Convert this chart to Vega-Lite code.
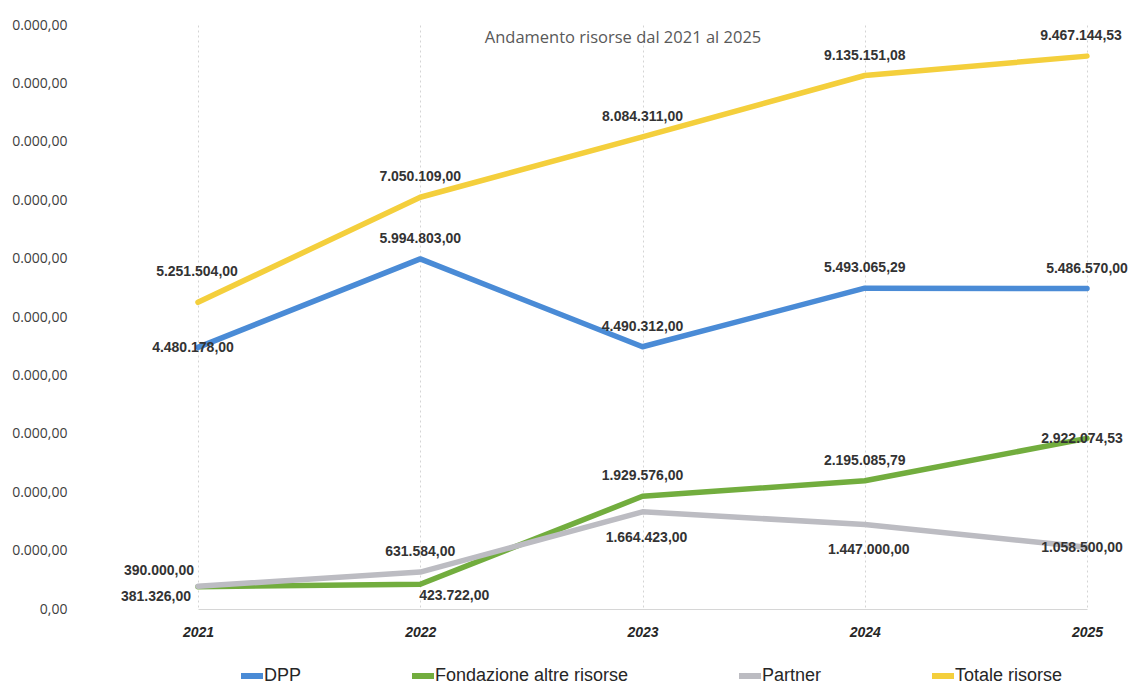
{
  "$schema": "https://vega.github.io/schema/vega-lite/v6.json",
  "width": 1042,
  "height": 584,
  "autosize": {"type": "none"},
  "padding": {"left": 87, "top": 25, "right": 0, "bottom": 80},
  "background": "white",
  "config": {
    "locale": {"number": {"decimal": ",", "thousands": ".", "grouping": [3], "currency": ["€", ""]}},
    "view": {"stroke": null}
  },
  "title": {
    "text": "Andamento risorse dal 2021 al 2025",
    "font": "Open Sans",
    "fontSize": 16.5,
    "fontWeight": "normal",
    "color": "#595959",
    "anchor": "middle",
    "dx": 15,
    "baseline": "middle",
    "offset": -36
  },
  "data": {
    "values": [
      {"series": "DPP", "year": "2021", "value": 4480178},
      {"series": "DPP", "year": "2022", "value": 5994803},
      {"series": "DPP", "year": "2023", "value": 4490312},
      {"series": "DPP", "year": "2024", "value": 5493065.29},
      {"series": "DPP", "year": "2025", "value": 5486570},
      {"series": "Fondazione altre risorse", "year": "2021", "value": 381326},
      {"series": "Fondazione altre risorse", "year": "2022", "value": 423722},
      {"series": "Fondazione altre risorse", "year": "2023", "value": 1929576},
      {"series": "Fondazione altre risorse", "year": "2024", "value": 2195085.79},
      {"series": "Fondazione altre risorse", "year": "2025", "value": 2922074.53},
      {"series": "Partner", "year": "2021", "value": 390000},
      {"series": "Partner", "year": "2022", "value": 631584},
      {"series": "Partner", "year": "2023", "value": 1664423},
      {"series": "Partner", "year": "2024", "value": 1447000},
      {"series": "Partner", "year": "2025", "value": 1058500},
      {"series": "Totale risorse", "year": "2021", "value": 5251504},
      {"series": "Totale risorse", "year": "2022", "value": 7050109},
      {"series": "Totale risorse", "year": "2023", "value": 8084311},
      {"series": "Totale risorse", "year": "2024", "value": 9135151.08},
      {"series": "Totale risorse", "year": "2025", "value": 9467144.53}
    ]
  },
  "encoding": {
    "x": {
      "field": "year",
      "type": "ordinal",
      "scale": {"type": "point", "range": [111, 1000], "padding": 0},
      "axis": {
        "title": null,
        "labelAngle": 0,
        "labelFont": "Liberation Sans",
        "labelFontSize": 14,
        "labelFontWeight": "bold",
        "labelFontStyle": "italic",
        "labelColor": "#262626",
        "labelPadding": 16,
        "ticks": false,
        "domain": true,
        "domainColor": "#d6d6d6",
        "domainWidth": 1,
        "grid": true,
        "gridColor": "#d4d4d4",
        "gridDash": [2, 3],
        "gridWidth": 1
      }
    },
    "y": {
      "field": "value",
      "type": "quantitative",
      "scale": {"domain": [0, 10000000], "nice": false, "zero": true},
      "axis": {
        "title": null,
        "values": [0, 1000000, 2000000, 3000000, 4000000, 5000000, 6000000, 7000000, 8000000, 9000000, 10000000],
        "format": ",.2f",
        "labelExpr": "length(datum.label) > 8 ? substring(datum.label, length(datum.label) - 8) : datum.label",
        "labelFont": "Open Sans",
        "labelFontSize": 14,
        "labelColor": "#404040",
        "labelPadding": 20,
        "labelOverlap": false,
        "labelFlush": false,
        "ticks": false,
        "domain": false,
        "grid": false
      }
    }
  },
  "layer": [
    {
      "mark": {"type": "line", "strokeWidth": 5.5, "strokeCap": "round", "strokeJoin": "round"},
      "encoding": {
        "color": {
          "field": "series",
          "type": "nominal",
          "scale": {
            "domain": ["DPP", "Fondazione altre risorse", "Partner", "Totale risorse"],
            "range": ["#4a8bd6", "#72ad3e", "#bcbcc2", "#f4cf3c"]
          },
          "legend": {
            "orient": "none",
            "legendX": 151,
            "legendY": 637,
            "direction": "horizontal",
            "title": null,
            "symbolType": "stroke",
            "symbolSize": 484,
            "symbolStrokeWidth": 6,
            "labelFont": "Liberation Sans",
            "labelFontSize": 18,
            "labelColor": "#262626",
            "labelOffset": -2,
            "labelLimit": 0,
            "columnPadding": 98
          }
        }
      }
    },
    {
      "transform": [{"filter": "(datum.series=='Totale risorse' && datum.year!='2021' && datum.year!='2025') || (datum.series=='DPP' && datum.year!='2021') || (datum.series=='Fondazione altre risorse' && (datum.year=='2023' || datum.year=='2024')) || (datum.series=='Partner' && datum.year=='2022')"}],
      "mark": {"type": "text", "font": "Liberation Sans", "fontWeight": "bold", "fontSize": 14, "color": "#333333", "align": "center", "baseline": "middle", "dy": -20},
      "encoding": {"text": {"field": "value", "type": "quantitative", "format": ",.2f"}}
    },
    {
      "transform": [{"filter": "datum.series=='Totale risorse' && datum.year=='2025'"}],
      "mark": {"type": "text", "font": "Liberation Sans", "fontWeight": "bold", "fontSize": 14, "color": "#333333", "align": "center", "baseline": "middle", "dy": -20, "dx": -6},
      "encoding": {"text": {"field": "value", "type": "quantitative", "format": ",.2f"}}
    },
    {
      "transform": [{"filter": "datum.series=='Totale risorse' && datum.year=='2021'"}],
      "mark": {"type": "text", "font": "Liberation Sans", "fontWeight": "bold", "fontSize": 14, "color": "#333333", "align": "center", "baseline": "middle", "dy": -30, "dx": -1},
      "encoding": {"text": {"field": "value", "type": "quantitative", "format": ",.2f"}}
    },
    {
      "transform": [{"filter": "(datum.series=='DPP' && datum.year=='2021') || (datum.series!='DPP' && datum.series!='Totale risorse' && datum.year=='2025')"}],
      "mark": {"type": "text", "font": "Liberation Sans", "fontWeight": "bold", "fontSize": 14, "color": "#333333", "align": "center", "baseline": "middle", "dy": 1, "dx": -5},
      "encoding": {"text": {"field": "value", "type": "quantitative", "format": ",.2f"}}
    },
    {
      "transform": [{"filter": "datum.series=='Partner' && (datum.year=='2023' || datum.year=='2024')"}],
      "mark": {"type": "text", "font": "Liberation Sans", "fontWeight": "bold", "fontSize": 14, "color": "#333333", "align": "center", "baseline": "middle", "dy": 26, "dx": 4},
      "encoding": {"text": {"field": "value", "type": "quantitative", "format": ",.2f"}}
    },
    {
      "transform": [{"filter": "datum.series=='Fondazione altre risorse' && datum.year=='2021'"}],
      "mark": {"type": "text", "font": "Liberation Sans", "fontWeight": "bold", "fontSize": 14, "color": "#333333", "align": "center", "baseline": "middle", "dy": 10, "dx": -42},
      "encoding": {"text": {"field": "value", "type": "quantitative", "format": ",.2f"}}
    },
    {
      "transform": [{"filter": "datum.series=='Partner' && datum.year=='2021'"}],
      "mark": {"type": "text", "font": "Liberation Sans", "fontWeight": "bold", "fontSize": 14, "color": "#333333", "align": "center", "baseline": "middle", "dy": -15, "dx": -39},
      "encoding": {"text": {"field": "value", "type": "quantitative", "format": ",.2f"}}
    },
    {
      "transform": [{"filter": "datum.series=='Fondazione altre risorse' && datum.year=='2022'"}],
      "mark": {"type": "text", "font": "Liberation Sans", "fontWeight": "bold", "fontSize": 14, "color": "#333333", "align": "center", "baseline": "middle", "dy": 12, "dx": 34},
      "encoding": {"text": {"field": "value", "type": "quantitative", "format": ",.2f"}}
    }
  ]
}
